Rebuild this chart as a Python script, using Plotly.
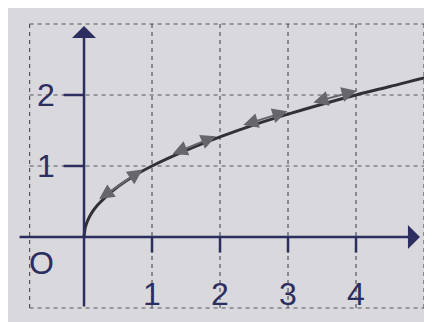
import plotly.graph_objects as go

# ---- data ----
curve_x = [0, 0.02, 0.06, 0.12, 0.2, 0.35, 0.5, 0.75, 1.0, 1.5, 2.0, 2.5, 3.0, 3.5, 4.0, 4.5, 5.0, 5.5]
curve_y = [0, 0.14, 0.245, 0.35, 0.45, 0.59, 0.71, 0.87, 1.0, 1.22, 1.41, 1.58, 1.73, 1.87, 2.0, 2.12, 2.24, 2.35]

arrow_x0 = [0.20, 1.28, 2.32, 3.35]
arrow_y0 = [0.52, 1.16, 1.57, 1.89]
arrow_x1 = [0.86, 1.94, 2.99, 4.01]
arrow_y1 = [0.95, 1.42, 1.77, 2.06]

x_ticks = [1, 2, 3, 4]
x_tick_labels = ["1", "2", "3", "4"]
y_ticks = [1, 2]
y_tick_labels = ["1", "2"]
origin_label = "O"

grid_x = [-0.8, 1, 2, 3, 4, 5]
grid_y = [-1, 1, 2, 3]

# ---- styling ----
NAVY = "#2b2e5e"
GRID = "#55555c"
CURVE = "#303036"
ARROW = "#66666c"
BG = "#d9d9dd"
FONT = "Liberation Sans"

x_lo, x_hi = -0.8, 5
y_lo, y_hi = -1, 3

fig = go.Figure()

# dashed grid
gx, gy = [], []
for v in grid_x:
    gx += [v, v, None]
    gy += [y_lo, y_hi, None]
for v in grid_y:
    gx += [x_lo, x_hi, None]
    gy += [v, v, None]
fig.add_trace(go.Scatter(x=gx, y=gy, mode="lines",
                         line=dict(color=GRID, width=1.2, dash="4px,4px"),
                         hoverinfo="skip", showlegend=False))

# tick marks
tx, ty = [], []
for v in x_ticks:
    tx += [v, v, None]
    ty += [0, -0.22, None]
for v in y_ticks:
    tx += [-0.3, 0, None]
    ty += [v, v, None]
fig.add_trace(go.Scatter(x=tx, y=ty, mode="lines",
                         line=dict(color=NAVY, width=2.5),
                         hoverinfo="skip", showlegend=False))

# curve
fig.add_trace(go.Scatter(x=curve_x, y=curve_y, mode="lines",
                         line=dict(color=CURVE, width=3, shape="spline"),
                         hoverinfo="skip", showlegend=False))

annotations = []
# axes with arrowheads
annotations.append(dict(x=4.94, y=0, ax=-0.97, ay=0, xref="x", yref="y",
                        axref="x", ayref="y", showarrow=True, arrowhead=1,
                        arrowsize=1.6, arrowwidth=2.5, arrowcolor=NAVY, text=""))
annotations.append(dict(x=0, y=2.97, ax=0, ay=-1.0, xref="x", yref="y",
                        axref="x", ayref="y", showarrow=True, arrowhead=1,
                        arrowsize=1.6, arrowwidth=2.5, arrowcolor=NAVY, text=""))

# double-headed secant arrows
for x0, y0, x1, y1 in zip(arrow_x0, arrow_y0, arrow_x1, arrow_y1):
    annotations.append(dict(x=x1, y=y1, ax=x0, ay=y0, xref="x", yref="y",
                            axref="x", ayref="y", showarrow=True, arrowhead=2,
                            startarrowhead=2, arrowside="end+start",
                            arrowsize=1.5, startarrowsize=1.5, arrowwidth=2,
                            arrowcolor=ARROW, text=""))

# tick labels
for v, t in zip(x_ticks, x_tick_labels):
    annotations.append(dict(x=v, y=-0.8, xref="x", yref="y", text=t,
                            showarrow=False, font=dict(family=FONT, size=32, color=NAVY)))
for v, t in zip(y_ticks, y_tick_labels):
    annotations.append(dict(x=-0.56, y=v, xref="x", yref="y", text=t,
                            showarrow=False, font=dict(family=FONT, size=32, color=NAVY)))
annotations.append(dict(x=-0.62, y=-0.36, xref="x", yref="y", text=origin_label,
                        showarrow=False, font=dict(family=FONT, size=32, color=NAVY)))

fig.update_layout(
    width=432, height=322,
    margin=dict(l=0, r=0, t=0, b=0),
    paper_bgcolor=BG, plot_bgcolor=BG,
    xaxis=dict(range=[-1.118, 5.235], visible=False, fixedrange=True),
    yaxis=dict(range=[-1.31, 3.225], visible=False, fixedrange=True),
    annotations=annotations,
    showlegend=False,
)

fig.write_html("out.html")
